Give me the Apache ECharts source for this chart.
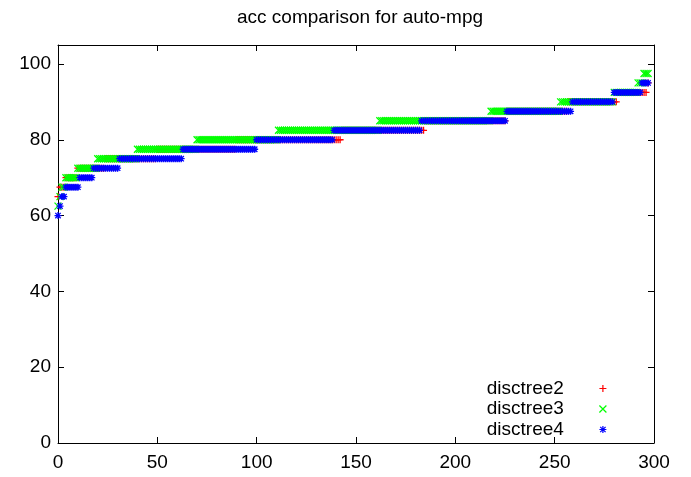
<!DOCTYPE html>
<html>
<head>
<meta charset="utf-8">
<script src="https://cdn.jsdelivr.net/npm/echarts@6/dist/echarts.min.js"></script>
<style>
html,body{margin:0;padding:0;background:#fff;}
#chart{width:691px;height:477px;}
</style>
</head>
<body>
<div id="chart"></div>
<script>
// Accuracy levels (%) observed in the chart
const accLevels = [60, 62.5, 65, 67.5, 70, 72.5, 75, 77.5, 80, 82.5, 85, 87.5, 90, 92.5, 95, 97.5];
// Number of sorted runs at each level
const disctree2Counts = [0, 0, 1, 3, 6, 14, 26, 40, 53, 42, 41, 31, 25, 15, 1, 0];
const disctree3Counts = [0, 1, 1, 2, 6, 10, 20, 30, 41, 51, 56, 35, 27, 12, 3, 3];
const disctree4Counts = [1, 1, 2, 7, 7, 13, 32, 37, 39, 44, 43, 33, 21, 14, 4, 0];
const seriesNames = ['disctree2', 'disctree3', 'disctree4'];
const xTicks = [0, 50, 100, 150, 200, 250, 300];
const yTicks = [0, 20, 40, 60, 80, 100];
const titleText = 'acc comparison for auto-mpg';

function expand(counts) {
  const out = [];
  let i = 0;
  counts.forEach((c, k) => {
    for (let j = 0; j < c; j++) { out.push([i, accLevels[k]]); i++; }
  });
  return out;
}

const plusPath = 'path://M0,3.5L7,3.5M3.5,0L3.5,7';
const crossPath = 'path://M0,0L7,7M0,7L7,0';
const starPath = 'path://M0,3.5L7,3.5M3.5,0L3.5,7M0.8,0.8L6.2,6.2M0.8,6.2L6.2,0.8';
const colors = ['#ff0000', '#00ff00', '#0000ff'];
const symbols = [plusPath, crossPath, starPath];
const counts = [disctree2Counts, disctree3Counts, disctree4Counts];

const FONT = 'Liberation Sans, Arial, sans-serif';
const chart = echarts.init(document.getElementById('chart'), null, {renderer: 'canvas'});

function axisBase(extra) {
  return Object.assign({
    type: 'value',
    axisLine: {show: true, onZero: false, lineStyle: {color: '#000', width: 1}},
    axisTick: {show: true, inside: true, length: 6, lineStyle: {color: '#000', width: 1}},
    splitLine: {show: false},
  }, extra);
}

const option = {
  animation: false,
  backgroundColor: '#fff',
  grid: {left: 58, right: 37, top: 45, bottom: 34, containLabel: false},
  graphic: [{
    type: 'text', x: 360, y: 18,
    style: {text: titleText, font: '19px ' + FONT, fill: '#000', textAlign: 'center', textVerticalAlign: 'middle'}
  }],
  xAxis: [
    axisBase({min: 0, max: 300, interval: 50, position: 'bottom',
      axisLabel: {color: '#000', fontSize: 19, fontFamily: FONT, margin: 10,
        formatter: v => xTicks.includes(v) ? String(v) : ''}}),
    axisBase({min: 0, max: 300, interval: 50, position: 'top', axisLabel: {show: false}})
  ],
  yAxis: [
    axisBase({min: 0, max: 105, interval: 20, position: 'left',
      axisTick: {show: true, inside: true, length: 6, lineStyle: {color: '#000'}, customValues: yTicks},
      axisLabel: {color: '#000', fontSize: 19, fontFamily: FONT, margin: 7, customValues: yTicks,
        formatter: v => yTicks.includes(v) ? String(v) : ''}}),
    axisBase({min: 0, max: 105, interval: 20, position: 'right',
      axisTick: {show: true, inside: true, length: 6, lineStyle: {color: '#000'}, customValues: yTicks},
      axisLabel: {show: false}})
  ],
  legend: {
    orient: 'vertical', right: 79, top: 374, align: 'right',
    itemWidth: 68, itemHeight: 7, itemGap: 1.5,
    selectedMode: false,
    textStyle: {fontSize: 19, color: '#000', fontFamily: FONT},
    data: seriesNames.map((n, k) => ({
      name: n, icon: symbols[k],
      itemStyle: {color: 'rgba(0,0,0,0)', borderColor: colors[k], borderWidth: 1.2}
    }))
  },
  series: seriesNames.map((n, k) => ({
    name: n, type: 'scatter', xAxisIndex: 0, yAxisIndex: 0,
    symbol: symbols[k], symbolSize: 7,
    itemStyle: {color: 'rgba(0,0,0,0)', borderColor: colors[k], borderWidth: 1.3, opacity: 1},
    emphasis: {disabled: true},
    data: expand(counts[k])
  }))
};
chart.setOption(option);
</script>
</body>
</html>
